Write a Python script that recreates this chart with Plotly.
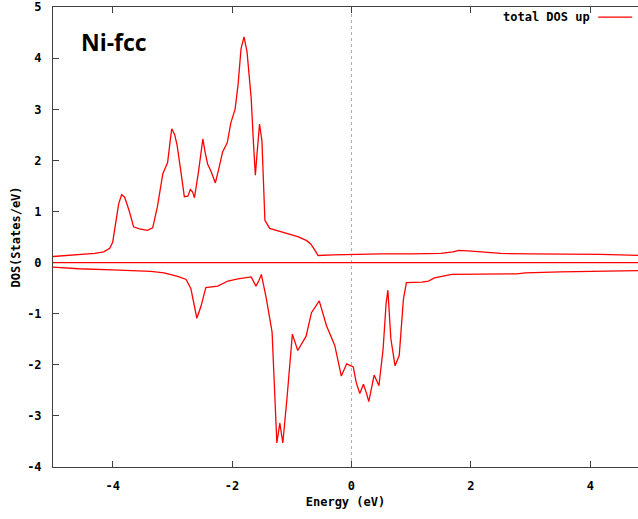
import plotly.graph_objects as go

# ---- data ----
energy_up = [-5.0, -4.6, -4.3, -4.15, -4.05, -4.0, -3.95, -3.90, -3.85, -3.80, -3.72, -3.65,
             -3.55, -3.42, -3.33, -3.25, -3.16, -3.08, -3.03, -3.01, -2.96, -2.92, -2.86,
             -2.80, -2.74, -2.70, -2.66, -2.63, -2.56, -2.51, -2.49, -2.45, -2.41, -2.35,
             -2.28, -2.22, -2.16, -2.08, -2.02, -1.95, -1.90, -1.85, -1.80, -1.75, -1.68,
             -1.64, -1.61, -1.58, -1.54, -1.50, -1.47, -1.45, -1.37, -1.12, -0.90, -0.75,
             -0.68, -0.60, -0.56, -0.30, 0.0, 0.5, 1.0, 1.5, 1.7, 1.8, 1.95, 2.2, 2.5, 3.0,
             3.5, 4.17, 4.5, 4.8]
dos_up = [0.12, 0.15, 0.18, 0.21, 0.28, 0.40, 0.75, 1.15, 1.33, 1.28, 1.00, 0.70,
          0.66, 0.63, 0.68, 1.10, 1.74, 1.96, 2.45, 2.62, 2.50, 2.29, 1.80,
          1.29, 1.30, 1.43, 1.38, 1.27, 1.80, 2.30, 2.42, 2.15, 1.93, 1.78,
          1.56, 1.85, 2.16, 2.35, 2.74, 3.00, 3.48, 4.19, 4.42, 4.13, 3.22,
          2.30, 1.71, 2.16, 2.71, 2.38, 1.50, 0.83, 0.67, 0.59, 0.51, 0.43,
          0.36, 0.22, 0.14, 0.15, 0.16, 0.17, 0.17, 0.18, 0.21, 0.24, 0.23, 0.21, 0.18, 0.17,
          0.17, 0.16, 0.15, 0.14]

energy_down = [-5.0, -4.57, -4.0, -3.70, -3.36, -3.14, -2.91, -2.77, -2.69, -2.64, -2.59,
               -2.52, -2.44, -2.24, -2.07, -1.90, -1.68, -1.60, -1.55, -1.51, -1.43, -1.33,
               -1.29, -1.25, -1.20, -1.15, -1.08, -0.99, -0.90, -0.80, -0.76, -0.67, -0.54,
               -0.42, -0.28, -0.17, -0.08, 0.03, 0.08, 0.14, 0.20, 0.25, 0.29, 0.38, 0.46,
               0.53, 0.58, 0.61, 0.66, 0.73, 0.80, 0.87, 0.92, 1.18, 1.29, 1.39, 1.68, 2.77,
               2.91, 3.50, 4.8]
dos_down = [-0.09, -0.12, -0.14, -0.15, -0.17, -0.20, -0.27, -0.33, -0.51, -0.80, -1.09,
            -0.85, -0.49, -0.46, -0.36, -0.32, -0.28, -0.46, -0.35, -0.23, -0.68, -1.36,
            -2.53, -3.53, -3.14, -3.53, -2.65, -1.40, -1.72, -1.50, -1.44, -0.98, -0.75,
            -1.23, -1.62, -2.22, -1.98, -2.04, -2.35, -2.56, -2.38, -2.55, -2.72, -2.20, -2.41,
            -1.69, -0.80, -0.54, -1.49, -2.02, -1.82, -0.72, -0.39, -0.38, -0.36, -0.30, -0.23, -0.22,
            -0.20, -0.18, -0.155]

x_ticks = [-4, -2, 0, 2, 4]
y_ticks = [-4, -3, -2, -1, 0, 1, 2, 3, 4, 5]
x_range = [-5, 4.8]
y_range = [-4, 5.003]

title_text = "Ni-fcc"
legend_text = "total DOS up"
x_title = "Energy (eV)"
y_title = "DOS(States/eV)"

RED = "#ff0000"
AX = "#404040"
MONO = "DejaVu Sans Mono"

fig = go.Figure()
fig.add_trace(go.Scatter(x=energy_up, y=dos_up, mode="lines",
                         line=dict(color=RED, width=1.3), showlegend=False))
fig.add_trace(go.Scatter(x=energy_down, y=dos_down, mode="lines",
                         line=dict(color=RED, width=1.3), showlegend=False))

# zero line and Fermi level
fig.add_hline(y=0, line=dict(color=RED, width=1.3), layer="above")
fig.add_vline(x=0, line=dict(color="#b0b0b0", width=1, dash="dot"), layer="below")

axis_font = dict(family=MONO, size=12, color="black")
fig.update_xaxes(range=x_range, tickvals=x_ticks, ticktext=["<b>%d</b>" % v for v in x_ticks],
                 showgrid=False, zeroline=False, showline=True, linecolor=AX, linewidth=1,
                 mirror="allticks", ticks="inside", ticklen=6, tickcolor=AX,
                 tickfont=axis_font, ticklabelstandoff=8, automargin=False,
                 ticklabeloverflow="allow",
                 title=dict(text="<b>" + x_title + "</b>", font=axis_font, standoff=5))
fig.update_yaxes(range=y_range, tickvals=y_ticks, ticktext=["<b>%d</b>" % v for v in y_ticks],
                 showgrid=False, zeroline=False, showline=True, linecolor=AX, linewidth=1,
                 mirror=False, ticks="inside", ticklen=6, tickcolor=AX,
                 tickfont=axis_font, ticklabelstandoff=8, automargin=False,
                 ticklabeloverflow="allow",
                 title=dict(text="<b>" + y_title + "</b>", font=axis_font, standoff=3))

# "Ni-fcc" label
fig.add_annotation(text="<b>" + title_text + "</b>", xref="paper", yref="paper",
                   x=0.044, y=0.924, xanchor="left", yanchor="middle", showarrow=False,
                   font=dict(family="Open Sans", size=23, color="black"))
# gnuplot style key: text followed by line sample
fig.add_annotation(text="<b>" + legend_text + "</b>", xref="paper", yref="paper",
                   x=0.922, y=0.978, xanchor="right", yanchor="middle", showarrow=False,
                   font=dict(family=MONO, size=12, color="black"))
fig.add_shape(type="line", xref="paper", yref="paper", x0=0.932, x1=0.99, y0=0.978, y1=0.978,
              line=dict(color=RED, width=1.2))

fig.update_layout(width=638, height=519, plot_bgcolor="white", paper_bgcolor="white",
                  margin=dict(l=53, r=0, t=7, b=52), showlegend=False)

fig.write_html("out.html", config={"displayModeBar": False},
               post_script="document.body.style.margin='0';document.body.style.overflow='hidden';")
